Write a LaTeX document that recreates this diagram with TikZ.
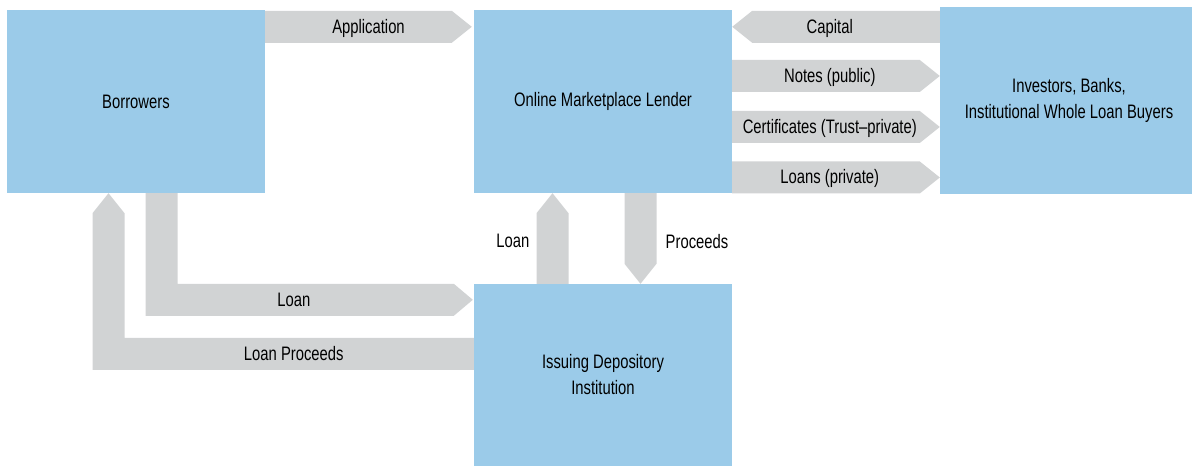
\documentclass[tikz,border=0pt]{standalone}
\usepackage{fontspec}
\setmainfont{Liberation Sans}[FakeStretch=0.76]
\usetikzlibrary{positioning,calc}
\definecolor{boxblue}{HTML}{9BCBE9}
\definecolor{flowgray}{HTML}{D1D3D4}
\tikzset{x=1pt, y=1pt, % one unit is one pixel of the drawing
        every node/.style={
            font=\fontsize{19.5}{26}\selectfont},
        party/.style={ % the blue boxes
            fill=boxblue,
            minimum width=258pt,
            minimum height=183pt,
            inner sep=0pt,
            align=center},
        flow/.style={fill=flowgray}, % the gray block arrows
        lbl/.style={inner sep=0pt},
        blk/.style={ % straight block arrow, 32pt wide, 20pt head
            to path={
                ($(\tikztostart)!16pt!90:(\tikztotarget)$)
                -- ($(\tikztotarget)!20pt!(\tikztostart)!16pt!-90:(\tikztostart)$)
                -- (\tikztotarget)
                -- ($(\tikztotarget)!20pt!(\tikztostart)!16pt!90:(\tikztostart)$)
                -- ($(\tikztostart)!16pt!-90:(\tikztotarget)$)
                -- cycle}}
        }

\begin{document}
\begin{tikzpicture}
    \useasboundingbox (0,0) rectangle (1192,466);

    \node[party] (bor) at (136,364.5) {Borrowers};
    \node[party] (oml) at (603,364.5) {Online Marketplace Lender};
    \node[party, minimum height=187pt] (inv) at (1069,365.5)
        {Investors, Banks,\\Institutional Whole Loan Buyers};
    \node[party, minimum height=182pt] (idi) at (603,91)
        {Issuing Depository\\Institution};

    % top row
    \coordinate (appS) at ([yshift=-17pt]bor.north east);
    \coordinate (appE) at ([xshift=-2pt]oml.west |- appS);
    \coordinate (capS) at (inv.west |- appS);
    \coordinate (capE) at (oml.east |- appS);
    \fill[flow] (appS) to[blk] (appE);
    \fill[flow] (capS) to[blk] (capE);
    \node[lbl, yshift=-2pt] (appL) at ($(appS)!0.5!(appE)$) {Application};
    \node[lbl, yshift=-2pt] (capL) at ($(capE)!0.47!(capS)$) {Capital};

    % lender to investors
    \foreach \dy/\nm/\txt in {25.5/nt/Notes (public),
                              -25.5/ct/Certificates (Trust--private),
                              -76/ln/Loans (private)}{
        \coordinate (\nm S) at ([yshift=\dy pt]oml.east);
        \coordinate (\nm E) at (inv.west |- \nm S);
        \fill[flow] (\nm S) to[blk] (\nm E);
        \node[lbl, yshift=-1pt] (\nm L) at ($(\nm S)!0.47!(\nm E)$) {\txt};
    }

    % lender and issuing institution
    \coordinate (upS) at ([xshift=-50.5pt]idi.north);
    \coordinate (upE) at (upS |- oml.south);
    \coordinate (dnS) at ([xshift=37.5pt]oml.south);
    \coordinate (dnE) at (dnS |- idi.north);
    \fill[flow] (upS) to[blk] (upE);
    \fill[flow] (dnS) to[blk] (dnE);
    \coordinate (upM) at ($(upS)!0.47!(upE)$);
    \coordinate (dnM) at ($(dnE)!0.47!(dnS)$);
    \node[lbl, left=23pt of upM] (upL) {Loan};
    \node[lbl, right=25pt of dnM] (dnL) {Proceeds};

    % borrowers and issuing institution
    \coordinate (bl) at ([xshift=25.5pt]bor.south);
    \coordinate (lo) at ([yshift=-16pt]idi.north west);
    \coordinate (c1) at (bl |- lo);
    \fill[flow] ($(bl)+(-16,0)$) -- ($(bl)+(16,0)$) -- ($(c1)+(16,16)$)
        -- ($(lo)+(-20,16)$) -- ([xshift=-1pt]lo) -- ($(lo)+(-20,-16)$)
        -- ($(c1)+(-16,-16)$) -- cycle;
    \node[lbl] (loL) at ([xshift=-180pt]lo) {Loan};

    \coordinate (bp) at ([xshift=-27.5pt]bor.south);
    \coordinate (lp) at ([yshift=21pt]idi.west);
    \coordinate (c2) at (bp |- lp);
    \fill[flow] ($(lp)+(0,16)$) -- ($(c2)+(16,16)$) -- ($(bp)+(16,-20)$)
        -- (bp) -- ($(bp)+(-16,-20)$) -- ($(c2)+(-16,-16)$)
        -- ($(lp)+(0,-16)$) -- cycle;
    \node[lbl] (lpL) at ([xshift=-180pt]lp) {Loan Proceeds};
\end{tikzpicture}
\end{document}
